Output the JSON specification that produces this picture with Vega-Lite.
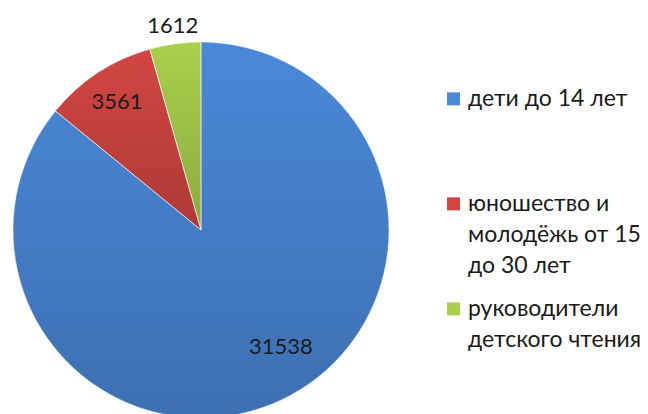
{
  "$schema": "https://vega.github.io/schema/vega-lite/v6.json",
  "width": 402,
  "height": 460,
  "padding": 0,
  "background": "#ffffff",
  "data": {
    "values": [
      {"category": "дети до 14 лет", "value": 31538},
      {"category": "юношество и молодёжь от 15 до 30 лет", "value": 3561},
      {"category": "руководители детского чтения", "value": 1612}
    ]
  },
  "encoding": {
    "theta": {"field": "value", "type": "quantitative", "stack": true},
    "order": {"field": "value", "type": "quantitative", "sort": "descending"}
  },
  "layer": [
    {
      "mark": {"type": "arc", "radius": 188},
      "encoding": {
        "color": {
          "field": "category",
          "type": "nominal",
          "scale": {
            "domain": ["дети до 14 лет", "юношество и молодёжь от 15 до 30 лет", "руководители детского чтения"],
            "range": ["#4A88D8", "#D24642", "#A8D04C"]
          },
          "legend": {
            "orient": "none",
            "legendX": 442,
            "legendY": 76,
            "title": null,
            "padding": 0,
            "labelFont": "Lato",
            "labelFontSize": 23,
            "labelColor": "#1a1a1a",
            "labelBaseline": "top",
            "labelOffset": 3,
            "labelLimit": 300,
            "rowPadding": 8,
            "symbolType": "M-1,0.75H1V2.75H-1Z",
            "symbolSize": 169,
            "symbolStrokeWidth": 0,
            "labelExpr": "datum.label == 'дети до 14 лет' ? ['дети до 14 лет', '', ''] : datum.label == 'руководители детского чтения' ? ['руководители', 'детского чтения', ''] : ['юношество и', 'молодёжь от 15', 'до 30 лет']"
          }
        }
      }
    },
    {
      "mark": {
        "type": "arc",
        "radius": 188,
        "stroke": "#ffffff",
        "strokeOpacity": 0.5,
        "strokeWidth": 1,
        "fill": {
          "gradient": "linear",
          "x1": 0, "y1": 0, "x2": 0, "y2": 1,
          "stops": [
            {"offset": 0, "color": "rgba(0,0,0,0)"},
            {"offset": 1, "color": "rgba(0,0,0,0.18)"}
          ]
        }
      }
    },
    {
      "mark": {"type": "text", "radius": 142, "dx": 19, "dy": -11, "font": "Lato", "fontSize": 22, "color": "#1a1a1a"},
      "encoding": {
        "text": {"condition": {"test": "datum.value > 10000", "field": "value", "type": "quantitative", "format": "d"}, "value": ""}
      }
    },
    {
      "mark": {"type": "text", "radius": 153, "font": "Lato", "fontSize": 22, "color": "#1a1a1a"},
      "encoding": {
        "text": {"condition": {"test": "datum.value > 2000 && datum.value < 10000", "field": "value", "type": "quantitative", "format": "d"}, "value": ""}
      }
    },
    {
      "mark": {"type": "text", "radius": 206, "font": "Lato", "fontSize": 22, "color": "#1a1a1a"},
      "encoding": {
        "text": {"condition": {"test": "datum.value < 2000", "field": "value", "type": "quantitative", "format": "d"}, "value": ""}
      }
    }
  ],
  "config": {
    "view": {"stroke": null},
    "style": {"guide-label": {"lineHeight": 31}}
  }
}
